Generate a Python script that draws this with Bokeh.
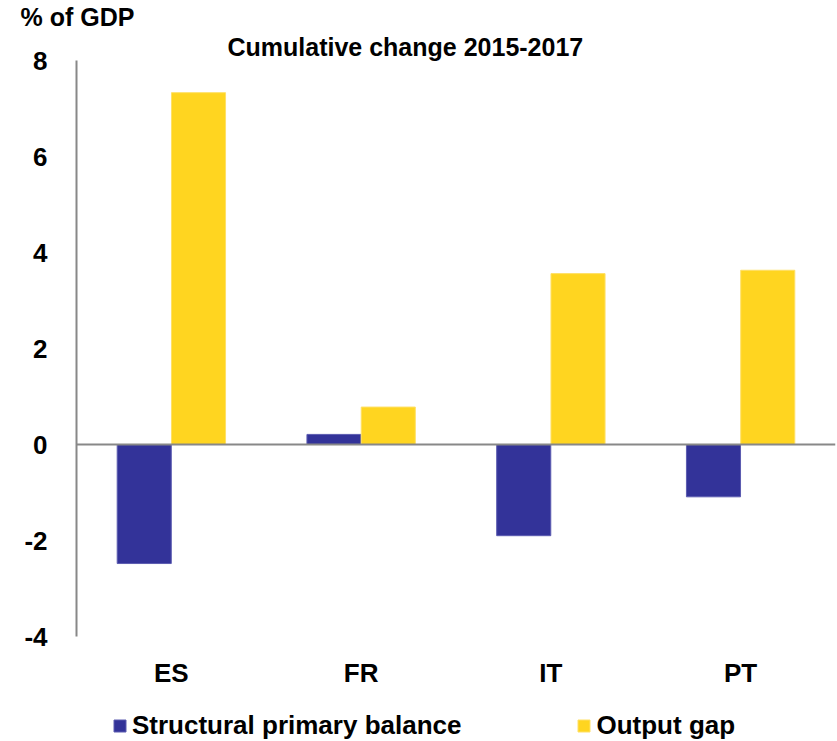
from bokeh.plotting import figure
from bokeh.layouts import column
from bokeh.models import (FactorRange, Range1d, ColumnDataSource, Span, Title,
                          Legend, LegendItem, FixedTicker, PrintfTickFormatter)
from bokeh.transform import dodge
from bokeh.embed import file_html
from bokeh.resources import INLINE

countries = ["ES", "FR", "IT", "PT"]
structural_primary_balance = [-2.48, 0.21, -1.90, -1.09]
output_gap = [7.33, 0.78, 3.56, 3.63]
y_ticks = [-4, -2, 0, 2, 4, 6, 8]
series_names = ["Structural primary balance", "Output gap"]

BLUE = "#333399"
YELLOW = "#FFD520"
BLUE_EDGE = "#5c5cb0"
YELLOW_EDGE = "#FFE066"
FONT = "Liberation Sans"

src = ColumnDataSource(dict(cat=countries, spb=structural_primary_balance, og=output_gap))

# ---------------- main chart ----------------
p = figure(frame_width=759, frame_height=576, x_range=FactorRange(*countries),
           y_range=Range1d(-4, 8), output_backend="svg", toolbar_location=None,
           min_border_left=76, min_border_right=2, min_border_top=60, min_border_bottom=75)
p.outline_line_color = None
p.xgrid.grid_line_color = None
p.ygrid.grid_line_color = None
p.background_fill_color = "white"
p.border_fill_color = "white"

p.vbar(x=dodge("cat", -0.143, range=p.x_range), top="spb", bottom=0, width=0.285,
       source=src, fill_color=BLUE, line_color=BLUE_EDGE, line_width=1)
p.vbar(x=dodge("cat", 0.143, range=p.x_range), top="og", bottom=0, width=0.285,
       source=src, fill_color=YELLOW, line_color=YELLOW_EDGE, line_width=1)

p.add_layout(Span(location=0, dimension="width", line_color="#888888", line_width=2))

ya = p.yaxis[0]
ya.ticker = FixedTicker(ticks=y_ticks)
ya.formatter = PrintfTickFormatter(format="%d")
ya.axis_line_color = "#888888"
ya.axis_line_width = 2
ya.major_tick_line_color = None
ya.minor_tick_line_color = None
ya.major_label_standoff = 23
ya.major_label_text_font = FONT
ya.major_label_text_font_style = "bold"
ya.major_label_text_font_size = "26px"
ya.major_label_text_color = "black"

xa = p.xaxis[0]
xa.axis_line_color = None
xa.major_tick_line_color = None
xa.minor_tick_line_color = None
xa.major_label_standoff = 15
xa.major_label_text_font = FONT
xa.major_label_text_font_style = "bold"
xa.major_label_text_font_size = "26px"
xa.major_label_text_color = "black"

p.add_layout(Title(text="Cumulative change 2015-2017", align="left", offset=151, standoff=0,
                   text_font=FONT, text_font_style="bold", text_font_size="25px",
                   text_color="black"), "above")
p.add_layout(Title(text="% of GDP", align="left", offset=-56, standoff=0,
                   text_font=FONT, text_font_style="bold", text_font_size="25px",
                   text_color="black"), "above")

# ---------------- legend strip ----------------
lg = figure(frame_width=837, frame_height=30, x_range=Range1d(0, 1), y_range=Range1d(0, 1),
            output_backend="svg", toolbar_location=None, min_border=0,
            x_axis_location=None, y_axis_location=None)
lg.outline_line_color = None
lg.grid.visible = False
lg.background_fill_color = "white"
lg.border_fill_color = "white"

# legend-key renderers: one zero-height row each, outside the strip's range (not visible)
key_src = ColumnDataSource(dict(x=[-5.0], top=[0.0], bottom=[0.0]))
k1 = lg.vbar(x="x", top="top", bottom="bottom", width=0.1, source=key_src,
             fill_color=BLUE, line_color=BLUE_EDGE)
k2 = lg.vbar(x="x", top="top", bottom="bottom", width=0.1, source=key_src,
             fill_color=YELLOW, line_color=YELLOW_EDGE)

legend = Legend(items=[LegendItem(label=series_names[0], renderers=[k1]),
                       LegendItem(label=series_names[1], renderers=[k2])],
                location=(112, 0), orientation="horizontal",
                glyph_width=15, glyph_height=15, label_standoff=5, spacing=115,
                padding=0, margin=0, border_line_color=None, background_fill_alpha=0,
                label_text_font=FONT, label_text_font_style="bold",
                label_text_font_size="26px", label_text_color="black")
lg.add_layout(legend)

layout = column(p, lg, spacing=0)
open("out.html", "w").write(file_html(layout, INLINE))
